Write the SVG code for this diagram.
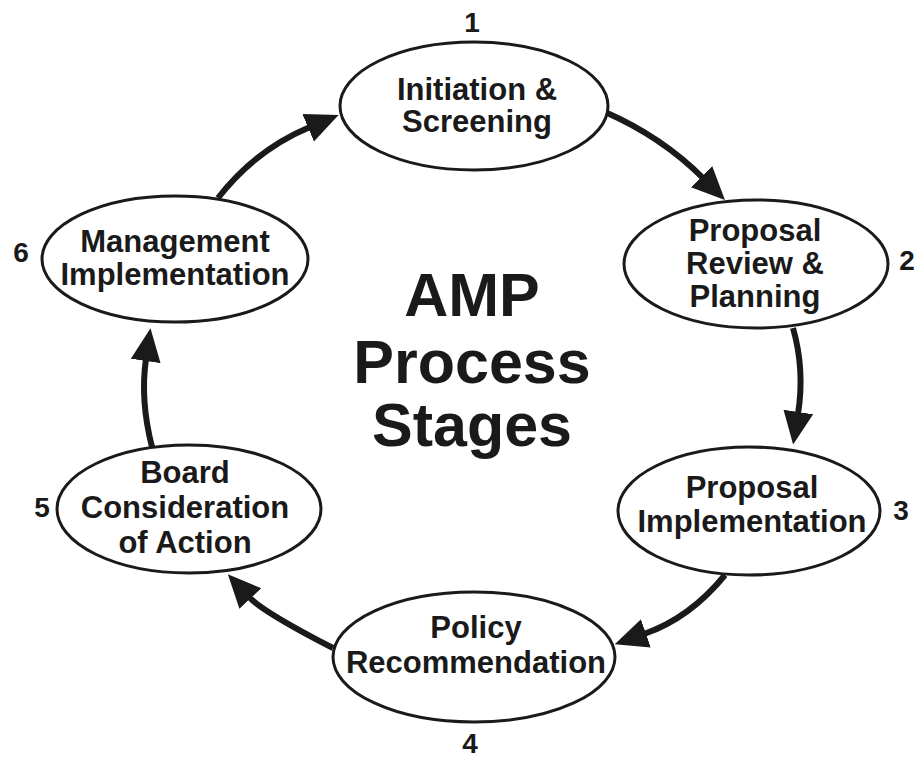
<svg xmlns="http://www.w3.org/2000/svg" width="917" height="759" viewBox="0 0 917 759">
<style>
  .node ellipse { fill: #ffffff; stroke: #1a1a1a; stroke-width: 3; }
  .lbl { font-family: "Liberation Sans", Arial, sans-serif; font-weight: bold; font-size: 31px; fill: #1a1a1a; text-anchor: middle; }
  .num { font-family: "Liberation Sans", Arial, sans-serif; font-weight: bold; font-size: 28px; fill: #1a1a1a; text-anchor: middle; }
  .title { font-family: "Liberation Sans", Arial, sans-serif; font-weight: bold; font-size: 61px; fill: #1a1a1a; text-anchor: middle; }
  .conn path { fill: none; stroke: #1a1a1a; stroke-width: 6; marker-end: url(#arrow); }
</style>
<defs>
  <marker id="arrow" markerUnits="userSpaceOnUse" markerWidth="36" markerHeight="32" viewBox="0 0 36 32" refX="2" refY="15" orient="auto">
    <path d="M0,0 L33,15 L0,30 z" fill="#1a1a1a"/>
  </marker>
</defs>
<rect width="917" height="759" fill="#ffffff"/>

<g id="connectors" class="conn">
  <path d="M218,198 Q255,150 310,127"/>
  <path d="M605,112 Q662,137 703,178"/>
  <path d="M793,328 Q805,370 798,414"/>
  <path d="M725,575 Q690,618 644,634"/>
  <path d="M333,648 Q263,612 249,597"/>
  <path d="M152,447 Q140,400 146,359"/>
</g>

<g id="node1" class="node">
  <ellipse cx="474" cy="106" rx="134" ry="64"/>
  <text class="lbl" x="477" y="100">Initiation &amp;</text>
  <text class="lbl" x="477" y="132">Screening</text>
  <text class="num" x="472" y="32">1</text>
</g>

<g id="node2" class="node">
  <ellipse cx="756" cy="264" rx="132" ry="64"/>
  <text class="lbl" x="755" y="241">Proposal</text>
  <text class="lbl" x="755" y="274">Review &amp;</text>
  <text class="lbl" x="755" y="307">Planning</text>
  <text class="num" x="907" y="270">2</text>
</g>

<g id="node3" class="node">
  <ellipse cx="749" cy="511" rx="131" ry="64"/>
  <text class="lbl" x="752" y="498">Proposal</text>
  <text class="lbl" x="752" y="532">Implementation</text>
  <text class="num" x="901" y="520">3</text>
</g>

<g id="node4" class="node">
  <ellipse cx="474" cy="657" rx="141" ry="65"/>
  <text class="lbl" x="476" y="638">Policy</text>
  <text class="lbl" x="476" y="673">Recommendation</text>
  <text class="num" x="470" y="753">4</text>
</g>

<g id="node5" class="node">
  <ellipse cx="189" cy="509" rx="132" ry="64"/>
  <text class="lbl" x="185" y="483">Board</text>
  <text class="lbl" x="185" y="518">Consideration</text>
  <text class="lbl" x="185" y="553">of Action</text>
  <text class="num" x="42" y="517">5</text>
</g>

<g id="node6" class="node">
  <ellipse cx="175" cy="259" rx="133" ry="63"/>
  <text class="lbl" x="175" y="252">Management</text>
  <text class="lbl" x="175" y="285">Implementation</text>
  <text class="num" x="21" y="262">6</text>
</g>

<g id="title">
  <text class="title" x="472" y="316">AMP</text>
  <text class="title" x="472" y="383">Process</text>
  <text class="title" x="472" y="446">Stages</text>
</g>
</svg>
